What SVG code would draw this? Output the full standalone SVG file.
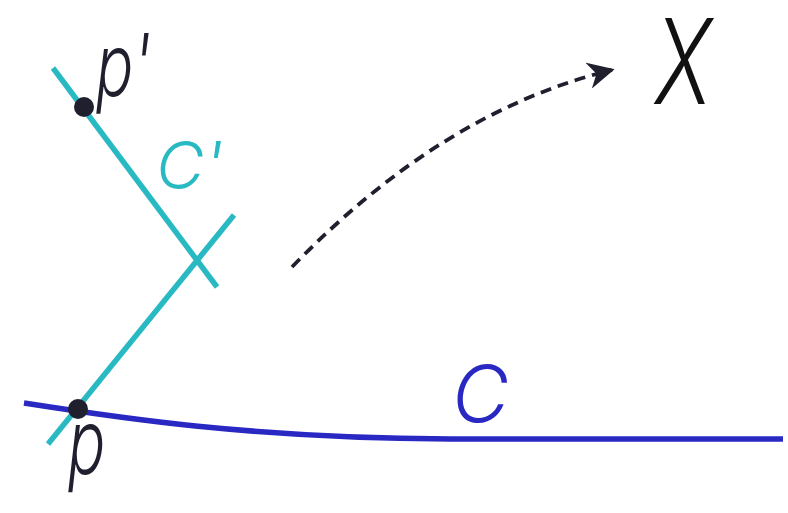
<svg xmlns="http://www.w3.org/2000/svg" width="788" height="513" viewBox="0 0 788 513">
<defs>
<style>
.cy{stroke:#28b9c3;stroke-width:5.5;fill:none;stroke-linecap:butt}
.bl{stroke:#2a28c2;stroke-width:5.5;fill:none}
.dot{fill:#1f1f2e}
.lbl{font-family:Inter,"Liberation Sans",sans-serif;font-weight:350;font-style:italic}
.dash{stroke:#1f1f2e;stroke-width:3.8;fill:none;stroke-dasharray:11 7}
</style>
<marker id="ah" viewBox="0 0 10 10" refX="9" refY="5" markerWidth="7" markerHeight="7" orient="auto" markerUnits="strokeWidth">
<path d="M0,0 L10,5 L0,10 L3,5 Z" fill="#1f1f2e"/>
</marker>
</defs>
<rect width="788" height="513" fill="#fff"/>
<g id="curve-C">
<path class="bl" d="M24,403 C120,418 250,438 450,439 L783,439"/>
<text class="lbl" x="452" y="422" font-size="78" fill="#2a28c2">C</text>
</g>
<g id="curve-Cprime">
<path class="cy" d="M53,68 L217,287"/>
<path class="cy" d="M234,215 L48,444"/>
<text class="lbl" x="156" y="189" font-size="66" fill="#28b9c3">C'</text>
</g>
<g id="point-p">
<circle class="dot" cx="78" cy="409" r="10"/>
<text class="lbl" x="68" y="474" font-size="62" fill="#1f1f2e" transform="translate(68 474) scale(1 1.45) translate(-68 -474)">p</text>
</g>
<g id="point-pprime">
<circle class="dot" cx="84" cy="107" r="10"/>
<text class="lbl" x="96" y="96" font-size="62" fill="#1f1f2e" transform="translate(96 96) scale(1 1.4) translate(-96 -96)">p'</text>
</g>
<g id="space-X">
<text class="lbl" x="655" y="104" font-size="118" fill="#111" font-style="normal" transform="translate(655 104) scale(0.72 1) translate(-655 -104)">X</text>
</g>
<g id="connectors">
<path class="dash" d="M292,267 Q443,111 612,70" marker-end="url(#ah)"/>
</g>
</svg>
